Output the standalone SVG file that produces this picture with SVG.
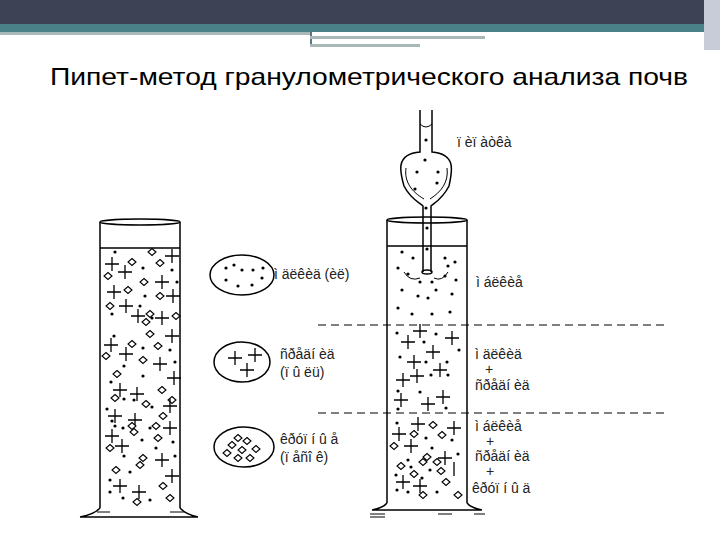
<svg xmlns="http://www.w3.org/2000/svg" width="720" height="540" viewBox="0 0 720 540">
<style>
.l{fill:none;stroke:#000;stroke-width:1.5}
.t{font-family:"Liberation Sans",Arial,sans-serif;font-size:14px;fill:#222}
.d{stroke:#000;stroke-width:1;stroke-dasharray:8,5;fill:none}
</style>
<defs>
<circle id="o" r="1.6" fill="#000"/>
<path id="p" d="M-7 0H7M0 -7V7" stroke="#000" stroke-width="1.3" fill="none"/>
<path id="q" d="M0 -3.5L4 0L0 3.5L-4 0Z" stroke="#000" stroke-width="1.1" fill="#fff"/>
</defs>
<rect width="720" height="540" fill="#fff"/>
<g id="header">
<rect x="0" y="0" width="706" height="24" fill="#3d4354"/>
<rect x="0" y="24" width="706" height="8" fill="#4a8088"/>
<rect x="0" y="32" width="310" height="3" fill="#aab8bb"/>
<rect x="310" y="32" width="2" height="14" fill="#5a7880"/>
<rect x="310" y="36" width="175" height="3" fill="#a8b8b8"/>
<rect x="310" y="44" width="110" height="3" fill="#a8b8b8"/>
<rect x="704" y="0" width="16" height="50" fill="#c8ccd8"/>
</g>
<text x="50" y="85" font-family="Liberation Sans,Arial,sans-serif" font-size="24" textLength="638" lengthAdjust="spacingAndGlyphs" fill="#000">Пипет-метод гранулометрического анализа почв</text>

<g id="left-cylinder">
<ellipse cx="140" cy="222" rx="40" ry="3" class="l"/>
<path class="l" d="M100 222V508M180 222V508M100 248H180"/>
<path class="l" d="M100 508Q95 514 80 517M180 508Q185 514 198 517M80 517H198"/>
<path stroke="#000" d="M97 512H110M170 512H185" fill="none"/>
<g>
<use href="#o" x="115" y="252"/><use href="#q" x="152" y="252"/><use href="#p" x="172" y="256"/>
<use href="#p" x="112" y="264"/><use href="#q" x="132" y="262"/><use href="#o" x="143" y="268"/><use href="#q" x="160" y="263"/><use href="#o" x="172" y="270"/>
<use href="#q" x="108" y="276"/><use href="#p" x="125" y="272"/><use href="#q" x="144" y="282"/><use href="#p" x="162" y="282"/><use href="#o" x="177" y="282"/>
<use href="#p" x="114" y="292"/><use href="#q" x="128" y="290"/><use href="#o" x="145" y="296"/><use href="#q" x="160" y="296"/><use href="#p" x="173" y="296"/>
<use href="#q" x="110" y="306"/><use href="#p" x="126" y="306"/><use href="#o" x="140" y="306"/><use href="#q" x="150" y="314"/><use href="#p" x="162" y="318"/><use href="#q" x="176" y="316"/>
<use href="#o" x="112" y="314"/><use href="#p" x="138" y="316"/><use href="#q" x="146" y="322"/><use href="#o" x="152" y="318"/>
<use href="#o" x="114" y="336"/><use href="#q" x="150" y="334"/><use href="#p" x="172" y="336"/>
<use href="#p" x="111" y="345"/><use href="#q" x="132" y="344"/><use href="#o" x="143" y="348"/><use href="#q" x="158" y="346"/><use href="#o" x="170" y="350"/>
<use href="#q" x="106" y="356"/><use href="#p" x="126" y="354"/><use href="#q" x="143" y="360"/><use href="#o" x="124" y="366"/><use href="#p" x="160" y="364"/><use href="#o" x="175" y="362"/>
<use href="#q" x="117" y="374"/><use href="#o" x="143" y="376"/><use href="#p" x="174" y="378"/>
<use href="#o" x="111" y="382"/><use href="#q" x="162" y="390"/><use href="#p" x="120" y="390"/><use href="#p" x="137" y="394"/>
<use href="#q" x="115" y="398"/><use href="#o" x="124" y="399"/><use href="#o" x="134" y="400"/><use href="#q" x="146" y="404"/><use href="#o" x="152" y="407"/><use href="#q" x="172" y="400"/><use href="#p" x="170" y="406"/>
<use href="#o" x="107" y="409"/><use href="#p" x="115" y="416"/><use href="#p" x="135" y="420"/><use href="#q" x="163" y="416"/><use href="#o" x="112" y="421"/>
<use href="#o" x="115" y="426"/><use href="#o" x="123" y="428"/><use href="#q" x="132" y="426"/><use href="#o" x="150" y="428"/><use href="#q" x="156" y="426"/><use href="#p" x="170" y="428"/>
<use href="#q" x="134" y="432"/><use href="#p" x="112" y="436"/><use href="#o" x="142" y="440"/><use href="#q" x="158" y="438"/><use href="#o" x="173" y="442"/>
<use href="#p" x="122" y="446"/><use href="#q" x="110" y="448"/><use href="#o" x="156" y="448"/>
<use href="#o" x="124" y="456"/><use href="#q" x="143" y="458"/><use href="#p" x="162" y="460"/><use href="#o" x="175" y="456"/><use href="#q" x="140" y="465"/>
<use href="#q" x="116" y="470"/><use href="#o" x="130" y="472"/><use href="#p" x="172" y="476"/>
<use href="#o" x="110" y="480"/><use href="#p" x="120" y="486"/><use href="#p" x="139" y="492"/><use href="#q" x="163" y="486"/><use href="#o" x="110" y="492"/>
<use href="#o" x="123" y="498"/><use href="#q" x="137" y="502"/><use href="#o" x="150" y="500"/><use href="#q" x="170" y="498"/>
</g>
</g>

<g id="pipette">
<path class="l" d="M420 110V152C395 154 400 172 404 186C410 198 418 202 423 206V272M432 110V152C457 154 452 172 449 186C443 198 436 202 431 206V272"/>
<path stroke="#000" fill="none" d="M406 168C404 182 412 192 424 199M447 168C449 182 441 192 430 199"/>
<path stroke="#000" fill="none" d="M420 124Q426 130 432 124"/>
<ellipse cx="427" cy="272" rx="5" ry="2" class="l"/>
<use href="#o" x="426" y="140"/><use href="#o" x="425" y="160"/><use href="#o" x="417" y="172"/><use href="#o" x="438" y="172"/>
<use href="#o" x="437" y="183"/><use href="#o" x="415" y="189"/><use href="#o" x="426" y="208"/><use href="#o" x="427" y="228"/><use href="#o" x="427" y="249"/>
<path stroke="#000" fill="none" d="M404 272Q410 282 420 278M448 272Q442 282 434 278"/>
</g>

<g id="right-cylinder">
<ellipse cx="427" cy="220" rx="40" ry="3" class="l"/>
<path class="l" d="M387 220V503M467 220V503M387 246H467"/>
<path class="l" d="M387 503Q383 508 372 510M467 503Q471 508 482 510M372 510H482"/>
<path stroke="#000" fill="none" d="M370 514H385M438 514H452M474 514H485M370 517H385"/>
<g>
<use href="#o" x="402" y="252"/><use href="#o" x="413" y="258"/><use href="#o" x="445" y="258"/><use href="#o" x="455" y="262"/><use href="#o" x="398" y="268"/>
<use href="#o" x="448" y="266"/><use href="#o" x="408" y="274"/><use href="#o" x="420" y="282"/><use href="#o" x="432" y="282"/><use href="#o" x="445" y="276"/><use href="#o" x="456" y="280"/>
<use href="#o" x="402" y="290"/><use href="#o" x="418" y="296"/><use href="#o" x="436" y="290"/><use href="#o" x="452" y="294"/>
<use href="#o" x="398" y="308"/><use href="#o" x="428" y="298"/><use href="#o" x="450" y="312"/><use href="#o" x="412" y="314"/><use href="#o" x="432" y="314"/>
<use href="#o" x="397" y="333"/><use href="#p" x="420" y="331"/><use href="#o" x="436" y="334"/><use href="#p" x="408" y="342"/><use href="#o" x="424" y="342"/><use href="#p" x="452" y="338"/>
<use href="#o" x="400" y="357"/><use href="#p" x="433" y="352"/><use href="#o" x="459" y="350"/><use href="#p" x="414" y="362"/><use href="#o" x="426" y="362"/><use href="#o" x="447" y="362"/>
<use href="#p" x="440" y="370"/><use href="#p" x="403" y="380"/><use href="#p" x="417" y="376"/><use href="#o" x="431" y="375"/><use href="#o" x="448" y="375"/>
<use href="#o" x="398" y="391"/><use href="#o" x="420" y="392"/><use href="#p" x="443" y="397"/><use href="#p" x="401" y="400"/><use href="#p" x="428" y="404"/><use href="#o" x="398" y="409"/><use href="#o" x="446" y="408"/>
<use href="#o" x="397" y="423"/><use href="#p" x="418" y="424"/><use href="#q" x="433" y="425"/><use href="#p" x="454" y="428"/>
<use href="#p" x="399" y="434"/><use href="#q" x="414" y="434"/><use href="#o" x="426" y="438"/><use href="#q" x="442" y="435"/><use href="#o" x="452" y="440"/>
<use href="#q" x="394" y="446"/><use href="#p" x="411" y="446"/><use href="#o" x="432" y="448"/>
<use href="#q" x="427" y="457"/><use href="#p" x="445" y="458"/><use href="#o" x="458" y="454"/><use href="#o" x="408" y="460"/><use href="#q" x="423" y="462"/><use href="#q" x="437" y="462"/>
<use href="#q" x="401" y="466"/><use href="#o" x="411" y="467"/><use href="#o" x="430" y="470"/><use href="#q" x="441" y="471"/><path stroke="#000" stroke-width="1.3" d="M454 462V476"/>
<use href="#o" x="396" y="475"/><use href="#q" x="414" y="474"/><use href="#o" x="422" y="478"/>
<use href="#p" x="403" y="482"/><use href="#p" x="420" y="486"/><use href="#q" x="446" y="482"/>
<use href="#o" x="397" y="490"/><use href="#o" x="408" y="492"/><use href="#q" x="423" y="495"/><use href="#o" x="437" y="492"/><use href="#q" x="458" y="495"/>
</g>
</g>

<g id="dividers">
<path class="d" d="M318 325H668M318 413H668"/>
</g>

<g id="legend-clay">
<ellipse cx="242" cy="275" rx="32" ry="20" class="l"/>
<use href="#o" x="226" y="268"/><use href="#o" x="234" y="265"/><use href="#o" x="242" y="270"/><use href="#o" x="253" y="270"/><use href="#o" x="263" y="268"/><use href="#o" x="226" y="280"/><use href="#o" x="238" y="286"/><use href="#o" x="252" y="285"/><use href="#o" x="262" y="278"/>
</g>
<g id="legend-silt">
<ellipse cx="242" cy="362" rx="28" ry="20" class="l"/>
<use href="#p" x="235" y="358"/><use href="#p" x="255" y="355"/><use href="#p" x="247" y="370"/>
</g>
<g id="legend-sand">
<ellipse cx="244" cy="447" rx="30" ry="20" class="l"/>
<use href="#q" x="238" y="438"/><use href="#q" x="232" y="445"/><use href="#q" x="247" y="441"/><use href="#q" x="242" y="450"/><use href="#q" x="227" y="453"/><use href="#q" x="256" y="449"/><use href="#q" x="238" y="458"/><use href="#q" x="250" y="458"/>
</g>

<g id="labels">
<text class="t" x="457" y="147">ï èï àòêà</text>
<text class="t" x="274" y="279">ì äëêèä (èë)</text>
<text class="t" x="476" y="287">ì áëêèå</text>
<text class="t" x="280" y="359">ñðåäí èä</text>
<text class="t" x="280" y="377">(ï û ëü)</text>
<text class="t" x="280" y="444">êðóï í û å</text>
<text class="t" x="280" y="462">(ï åñî ê)</text>
<text class="t" x="475" y="359">ì äëêèä</text>
<text class="t" x="485" y="374">+</text>
<text class="t" x="475" y="390">ñðåäí èä</text>
<text class="t" x="475" y="431">ì áëêèå</text>
<text class="t" x="486" y="446">+</text>
<text class="t" x="475" y="461">ñðåäí èä</text>
<text class="t" x="486" y="476">+</text>
<text class="t" x="472" y="493">êðóï í û ä</text>
</g>
</svg>
